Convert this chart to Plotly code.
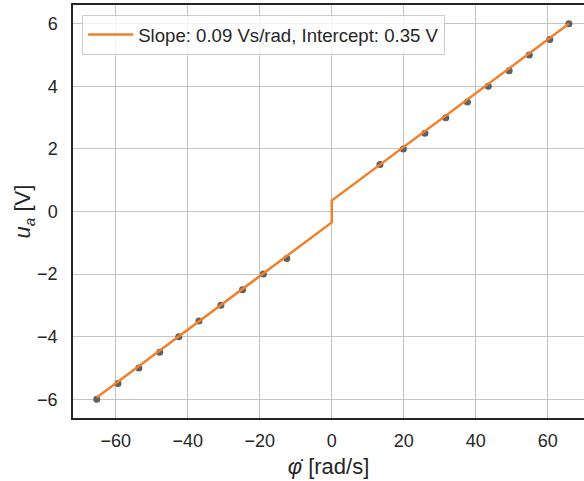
import numpy as np
import plotly.graph_objects as go

# measured data
phi_dot = [-65.3, -59.4, -53.6, -47.8, -42.5, -36.9, -30.8, -24.8, -19.0, -12.5,
           13.4, 19.9, 25.9, 31.7, 37.7, 43.5, 49.3, 54.9, 60.6, 65.9]
u_a = [-6.0, -5.5, -5.0, -4.5, -4.0, -3.5, -3.0, -2.5, -2.0, -1.5,
       1.5, 2.0, 2.5, 3.0, 3.5, 4.0, 4.5, 5.0, 5.5, 6.0]

# fitted model (friction-type offset)
slope = 0.0857
intercept = 0.35
x_tick_vals = [-60, -40, -20, 0, 20, 40, 60]
y_tick_vals = [-6, -4, -2, 0, 2, 4, 6]

x_line = [min(phi_dot), 0.0, 0.0, max(phi_dot)]
sgn = [-1, -1, 1, 1]
y_line = [slope * x + intercept * s for x, s in zip(x_line, sgn)]

fig = go.Figure()
fig.add_trace(go.Scatter(
    x=phi_dot, y=u_a, mode="markers",
    marker=dict(color="#606060", size=7),
    showlegend=False))
fig.add_trace(go.Scatter(
    x=x_line, y=y_line, mode="lines",
    line=dict(color="#f0812c", width=2.5),
    name="Slope: 0.09 Vs/rad, Intercept: 0.35 V"))

font_color = "#262626"
fig.update_layout(
    width=584, height=481,
    margin=dict(l=73, r=0, t=5, b=63),
    paper_bgcolor="white", plot_bgcolor="white",
    font=dict(family="Liberation Sans, Arial, sans-serif", size=18, color=font_color),
    legend=dict(x=0.018, y=0.976, xanchor="left", yanchor="top",
                bgcolor="rgba(255,255,255,0.8)", bordercolor="#cccccc", borderwidth=1,
                itemwidth=45,
                font=dict(size=18.6, color=font_color)),
)
fig.update_xaxes(
    range=[-71.9, 70.1], tickvals=x_tick_vals,
    ticktext=[str(v).replace("-", "\u2212") for v in x_tick_vals],
    showgrid=True, gridcolor="#c4c4c4", gridwidth=1, zeroline=False,
    showline=True, linecolor="#262626", linewidth=1.5, mirror=True,
    ticks="outside", ticklen=6, tickcolor="rgba(0,0,0,0)",
    title=dict(text="<i>\u03c6\u0307</i> [rad/s]", standoff=8),
)
fig.update_yaxes(
    range=[-6.6, 6.6], tickvals=y_tick_vals,
    ticktext=[str(v).replace("-", "\u2212") for v in y_tick_vals],
    showgrid=True, gridcolor="#c4c4c4", gridwidth=1, zeroline=False,
    showline=True, linecolor="#262626", linewidth=1.5,
    ticks="outside", ticklen=10, tickcolor="rgba(0,0,0,0)",
    title=dict(text="<i>u</i><sub><i>a</i></sub> [V]", standoff=0),
)
fig.write_html("out.html")
